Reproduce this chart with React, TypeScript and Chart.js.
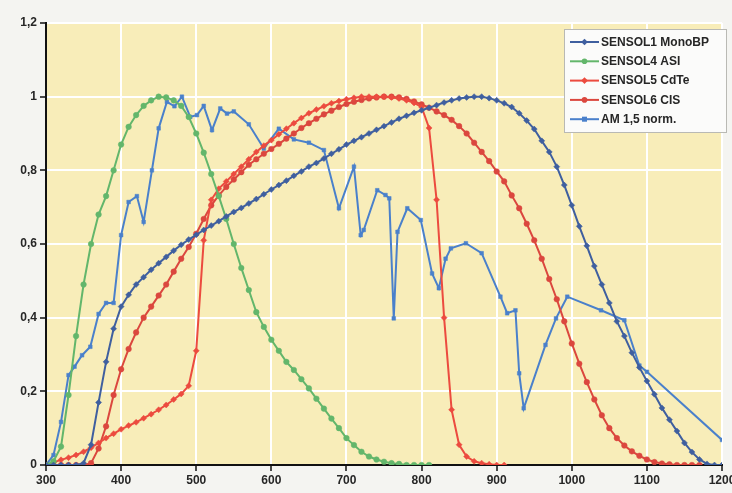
import { useEffect, useRef } from "react";
import { Chart, registerables } from "chart.js";

Chart.register(...registerables);

const WAVELENGTHS = [
  300, 310, 320, 330, 340, 350, 360, 370, 380, 390,
  400, 410, 420, 430, 440, 450, 460, 470, 480, 490,
  500, 510, 520, 530, 540, 550, 560, 570, 580, 590,
  600, 610, 620, 630, 640, 650, 660, 670, 680, 690,
  700, 710, 720, 730, 740, 750, 760, 770, 780, 790,
  800, 810, 820, 830, 840, 850, 860, 870, 880, 890,
  900, 910, 920, 930, 940, 950, 960, 970, 980, 990,
  1000, 1010, 1020, 1030, 1040, 1050, 1060, 1070, 1080, 1090,
  1100, 1110, 1120, 1130, 1140, 1150, 1160, 1170, 1180, 1190,
  1200,
];

const SENSOL1_MONOBP = [
  0, 0, 0, 0, 0, 0.005, 0.055, 0.17, 0.28, 0.37,
  0.43, 0.462, 0.49, 0.51, 0.53, 0.548, 0.565, 0.582, 0.598, 0.612,
  0.625, 0.638, 0.65, 0.662, 0.675, 0.687, 0.698, 0.71, 0.722, 0.735,
  0.748, 0.76, 0.772, 0.785, 0.797, 0.81, 0.82, 0.832, 0.845, 0.857,
  0.87, 0.88, 0.89, 0.9, 0.91, 0.92, 0.93, 0.94, 0.948, 0.956,
  0.963, 0.97, 0.977, 0.984, 0.99, 0.995, 0.998, 1.0, 1.0, 0.996,
  0.99, 0.982, 0.972, 0.955, 0.935, 0.912, 0.88, 0.85, 0.81, 0.76,
  0.705, 0.648, 0.595, 0.54, 0.49, 0.44, 0.39, 0.35, 0.305, 0.265,
  0.228, 0.192, 0.155, 0.123, 0.092, 0.06, 0.035, 0.015, 0.003, 0,
  0,
];

const SENSOL4_ASI = [
  0, 0.01, 0.05, 0.19, 0.35, 0.49, 0.6, 0.68, 0.73, 0.8,
  0.87, 0.918, 0.95, 0.975, 0.99, 1.0, 0.998, 0.99, 0.975, 0.945,
  0.9, 0.848, 0.79, 0.73, 0.668, 0.6, 0.535, 0.475, 0.415, 0.375,
  0.34, 0.31, 0.28, 0.258, 0.233, 0.208, 0.18, 0.153, 0.126, 0.1,
  0.073, 0.054, 0.036, 0.023, 0.015, 0.009, 0.005, 0.003, 0, 0,
  0, 0,
];

const SENSOL5_CDTE = [
  0, 0.007, 0.014, 0.02, 0.027, 0.036, 0.047, 0.06, 0.073, 0.085,
  0.097, 0.107, 0.116, 0.127, 0.138, 0.15, 0.163, 0.178, 0.193, 0.215,
  0.31, 0.61, 0.72, 0.75, 0.77, 0.79, 0.81, 0.83, 0.85, 0.867,
  0.882, 0.898, 0.913, 0.928, 0.942, 0.955, 0.965, 0.974, 0.982, 0.988,
  0.993, 0.997, 1.0, 1.0, 1.0, 1.0, 0.998, 0.995, 0.99, 0.983,
  0.972, 0.915, 0.72, 0.4, 0.15, 0.055, 0.023, 0.01, 0.005, 0.002,
  0, 0,
];

const SENSOL6_CIS = [
  0, 0, 0, 0, 0, 0, 0.005, 0.045, 0.105, 0.19,
  0.26, 0.315, 0.36, 0.4, 0.43, 0.46, 0.49, 0.525, 0.56, 0.592,
  0.628, 0.668, 0.705, 0.732, 0.755, 0.775, 0.795, 0.815, 0.83, 0.845,
  0.858, 0.872, 0.886, 0.9, 0.915, 0.928, 0.94, 0.952, 0.962, 0.972,
  0.98, 0.986, 0.991, 0.995, 0.998, 1.0, 1.0, 0.998, 0.994, 0.987,
  0.979, 0.97, 0.96, 0.95, 0.937, 0.92, 0.9, 0.875, 0.85, 0.825,
  0.797, 0.77, 0.732, 0.697, 0.655, 0.61, 0.56, 0.505, 0.45, 0.39,
  0.33, 0.275, 0.225, 0.178, 0.135, 0.1, 0.073, 0.053, 0.037, 0.025,
  0.015, 0.008, 0.004, 0.002, 0, 0, 0, 0,
];

const AM15_WAVELENGTHS = [
  300, 310, 320, 330, 338, 348, 359, 370, 380, 390,
  400, 410, 421, 430, 441, 450, 461, 471, 481, 492,
  501, 510, 521, 532, 541, 550, 570, 590, 610, 630,
  650, 670, 690, 710, 719, 723, 741, 752, 757, 763,
  768, 781, 799, 814, 823, 832, 839, 859, 880, 905,
  914, 925, 930, 936, 965, 979, 994, 1039, 1070, 1090,
  1100, 1200,
];

const AM15_NORM = [
  0, 0.027, 0.117, 0.244, 0.267, 0.298, 0.321, 0.41, 0.44, 0.44,
  0.624, 0.714, 0.73, 0.66, 0.8, 0.914, 0.986, 0.974, 1.0, 0.945,
  0.95, 0.975, 0.909, 0.968, 0.954, 0.96, 0.925, 0.859, 0.913, 0.884,
  0.875, 0.855, 0.697, 0.81, 0.624, 0.638, 0.746, 0.733, 0.724, 0.398,
  0.633, 0.697, 0.665, 0.52, 0.48, 0.56, 0.588, 0.602, 0.575, 0.457,
  0.412, 0.42, 0.249, 0.154, 0.326, 0.398, 0.457, 0.42, 0.393, 0.27,
  0.253, 0.068,
];

const SERIES_NAMES = [
  "SENSOL1 MonoBP",
  "SENSOL4 ASI",
  "SENSOL5 CdTe",
  "SENSOL6 CIS",
  "AM 1,5 norm.",
];

const COLORS = ["#3f5f9f", "#63b66b", "#ec4b3f", "#db473e", "#4a80cb"];
const MARKERS = ["rectRot", "circle", "rectRot", "circle", "rect"];

const FONT_FAMILY = '"Liberation Sans", Arial, Helvetica, sans-serif';

function toPoints(xs: number[], ys: number[]) {
  return ys.map((y, i) => ({ x: xs[i], y }));
}

function drawMarker(ctx: CanvasRenderingContext2D, style: string, x: number, y: number, r: number, color: string) {
  ctx.save();
  ctx.fillStyle = color;
  ctx.beginPath();
  if (style === "circle") {
    ctx.arc(x, y, r, 0, Math.PI * 2);
  } else if (style === "rect") {
    ctx.rect(x - r * 0.9, y - r * 0.9, r * 1.8, r * 1.8);
  } else {
    ctx.moveTo(x, y - r * 1.2);
    ctx.lineTo(x + r * 1.2, y);
    ctx.lineTo(x, y + r * 1.2);
    ctx.lineTo(x - r * 1.2, y);
    ctx.closePath();
  }
  ctx.fill();
  ctx.restore();
}

const backgroundPlugin = {
  id: "bgPlugin",
  beforeDraw(chart: any) {
    const { ctx, chartArea, width, height } = chart;
    ctx.save();
    ctx.fillStyle = "#f4f4f1";
    ctx.fillRect(0, 0, width, height);
    ctx.fillStyle = "#f8edb9";
    ctx.fillRect(chartArea.left, chartArea.top, chartArea.right - chartArea.left, chartArea.bottom - chartArea.top);
    ctx.restore();
  },
};

const legendPlugin = {
  id: "lineLegend",
  afterDraw(chart: any) {
    const ctx: CanvasRenderingContext2D = chart.ctx;
    const left = 564.5;
    const top = 29.5;
    const w = 162;
    const h = 103;
    ctx.save();
    ctx.fillStyle = "#fbfbfa";
    ctx.fillRect(left, top, w, h);
    ctx.strokeStyle = "#b9b9b4";
    ctx.lineWidth = 1;
    ctx.strokeRect(left, top, w, h);
    ctx.font = "bold 12px " + FONT_FAMILY;
    ctx.textBaseline = "middle";
    ctx.textAlign = "left";
    SERIES_NAMES.forEach((name, i) => {
      const y = 42 + i * 19.3;
      ctx.strokeStyle = COLORS[i];
      ctx.lineWidth = 2;
      ctx.beginPath();
      ctx.moveTo(570, y);
      ctx.lineTo(599, y);
      ctx.stroke();
      drawMarker(ctx, MARKERS[i], 584.5, y, 2.8, COLORS[i]);
      ctx.fillStyle = "#262626";
      ctx.fillText(name, 601, y + 0.5);
    });
    ctx.restore();
  },
};

export default function App() {
  const canvasRef = useRef<HTMLCanvasElement | null>(null);

  useEffect(() => {
    document.body.style.margin = "0";
    const canvas = canvasRef.current;
    if (!canvas) return;

    const seriesData = [
      toPoints(WAVELENGTHS, SENSOL1_MONOBP),
      toPoints(WAVELENGTHS, SENSOL4_ASI),
      toPoints(WAVELENGTHS, SENSOL5_CDTE),
      toPoints(WAVELENGTHS, SENSOL6_CIS),
      toPoints(AM15_WAVELENGTHS, AM15_NORM),
    ];

    const tickFont = { family: FONT_FAMILY, size: 12, weight: "bold" as const };

    const chart = new Chart(canvas, {
      type: "line",
      data: {
        datasets: seriesData.map((data, i) => ({
          label: SERIES_NAMES[i],
          data,
          borderColor: COLORS[i],
          backgroundColor: COLORS[i],
          pointBackgroundColor: COLORS[i],
          pointBorderColor: COLORS[i],
          pointStyle: MARKERS[i] as any,
          pointRadius: MARKERS[i] === "rectRot" ? 3 : MARKERS[i] === "rect" ? 2.6 : 2.8,
          pointBorderWidth: 0.5,
          borderWidth: 2,
          tension: 0,
          fill: false,
        })),
      },
      options: {
        animation: false,
        responsive: false,
        maintainAspectRatio: false,
        events: [],
        layout: { padding: { top: 23, right: 10, left: 0, bottom: 0 } },
        plugins: {
          legend: { display: false },
          tooltip: { enabled: false },
        },
        scales: {
          x: {
            type: "linear",
            min: 300,
            max: 1200,
            ticks: {
              stepSize: 100,
              font: tickFont,
              color: "#262626",
              padding: 2,
              maxRotation: 0,
              autoSkip: false,
              callback: (v: any) => String(Math.round(Number(v))),
            },
            grid: {
              color: "#ffffff",
              lineWidth: 2,
              tickColor: "#111111",
              tickLength: 6,
              tickWidth: 1.5,
            },
            border: { color: "#111111", width: 2 },
            afterFit: (scale: any) => {
              scale.height = 28;
              scale.paddingLeft = 0;
              scale.paddingRight = 0;
            },
          },
          y: {
            type: "linear",
            min: 0,
            max: 1.2,
            ticks: {
              stepSize: 0.2,
              font: tickFont,
              color: "#262626",
              padding: 3,
              callback: (v: any) => String(Math.round(Number(v) * 10) / 10).replace(".", ","),
            },
            grid: {
              color: "#ffffff",
              lineWidth: 2,
              tickColor: "#111111",
              tickLength: 6,
              tickWidth: 1.5,
            },
            border: { color: "#111111", width: 2 },
            afterFit: (scale: any) => {
              scale.width = 46;
              scale.paddingTop = 0;
              scale.paddingBottom = 0;
            },
          },
        },
      },
      plugins: [backgroundPlugin, legendPlugin],
    });

    return () => {
      chart.destroy();
    };
  }, []);

  return (
    <div style={{ width: 732, height: 493, position: "relative" }}>
      <canvas ref={canvasRef} width={732} height={493} style={{ display: "block", width: 732, height: 493 }} />
    </div>
  );
}
